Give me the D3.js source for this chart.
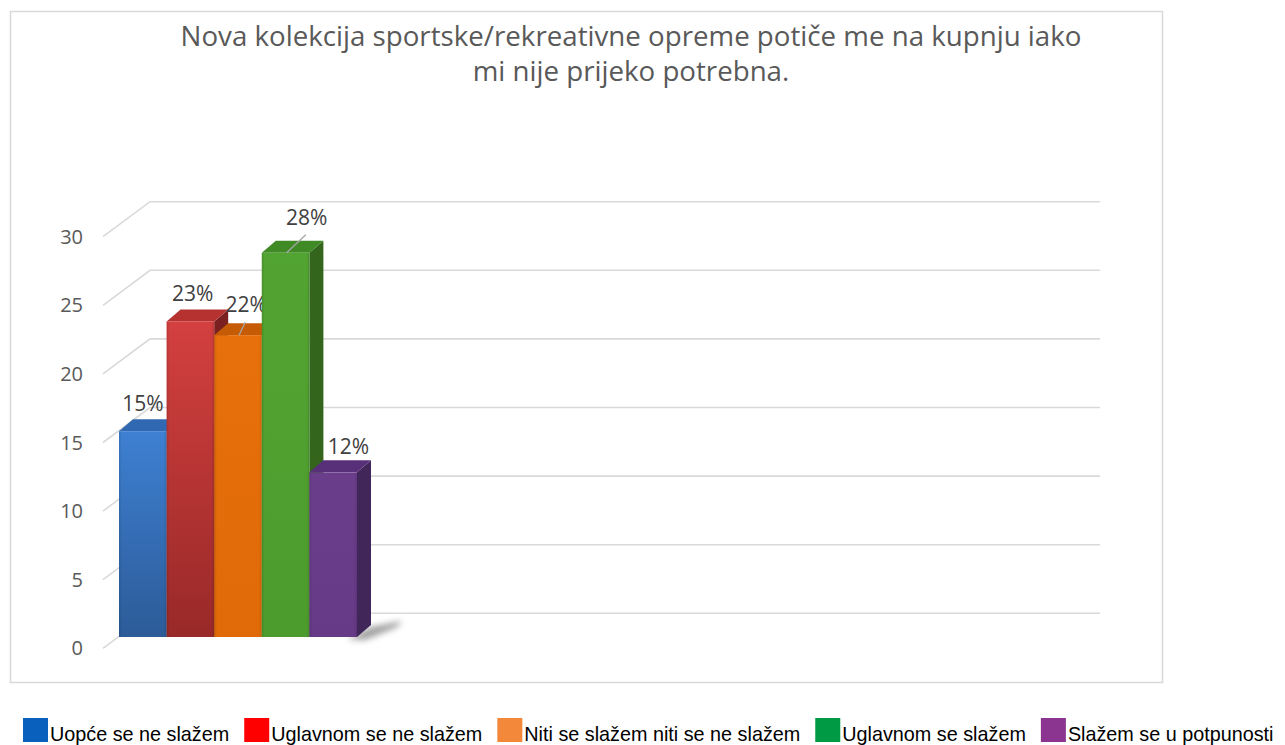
<!doctype html>
<html>
<head>
<meta charset="utf-8">
<script src="https://cdn.jsdelivr.net/npm/d3@7"></script>
<style>
  body { margin: 0; background: #fff; }
  svg { display: block; }
</style>
</head>
<body>
<script>
// Data
const categories = ["Uopće se ne slažem", "Uglavnom se ne slažem", "Niti se slažem niti se ne slažem", "Uglavnom se slažem", "Slažem se u potpunosti"];
const values = [15, 23, 22, 28, 12];
const valueLabels = ["15%", "23%", "22%", "28%", "12%"];
const yTicks = [0, 5, 10, 15, 20, 25, 30];
const titleLines = ["Nova kolekcija sportske/rekreativne opreme potiče me na kupnju iako", "mi nije prijeko potrebna."];

// colours: [front top, front bottom, top face, side face]
const barColors = [
  ["#3e80d2", "#2c5b98", "#3069b2", "#24497a"],
  ["#d3403f", "#982928", "#b53231", "#7a2020"],
  ["#e8700c", "#e06a08", "#c55c05", "#a84d04"],
  ["#52a432", "#4c9c2d", "#3f8a25", "#33651d"],
  ["#6b3e8c", "#663a87", "#583079", "#41265a"]
];
const legendColors = ["#0a60bd", "#ff0000", "#f4883a", "#009944", "#8b3590"];

// label nudges relative to default spot (layout only)
const labelShift = [[0, 0], [2, 0], [8, -3], [21, -8], [15, 2]];
const hasLeader = [false, false, true, true, false];

const W = 1285, H = 745;
const svg = d3.select("body").append("svg").attr("width", W).attr("height", H);

// chart border
svg.append("rect").attr("x", 10.5).attr("y", 11.5).attr("width", 1152).attr("height", 671)
  .attr("fill", "#fff").attr("stroke", "#d9d9d9").attr("stroke-width", 1.5);

// title
svg.append("text")
  .attr("font-family", "'Open Sans', 'Noto Sans', sans-serif")
  .attr("font-size", 27.7).attr("fill", "#595959").attr("text-anchor", "middle")
  .selectAll("tspan").data(titleLines).join("tspan")
  .attr("x", 631).attr("y", (d, i) => 46 + i * 35).text(d => d);

// 3D geometry
const depthX = 47, depthY = -35;       // front -> back of the plot floor
const yBack = d3.scaleLinear().domain([0, 30]).range([613.3, 201.7]);
const yFront = v => yBack(v) - depthY;
const backX0 = 150, backX1 = 1100;
const barBase = 637;                   // bars stand midway in depth
const y = d3.scaleLinear().domain([0, 30]).range([barBase, barBase - (yBack(0) - yBack(30))]);
const x = d3.scaleBand().domain(categories).range([119, 357]).padding(0);
const bdx = 14, bdy = -12;             // bar depth

// gridlines
const grid = svg.append("g").attr("stroke", "#d9d9d9").attr("stroke-width", 1.6).attr("fill", "none");
grid.selectAll("path").data(yTicks).join("path")
  .attr("d", d => `M${backX0 - depthX},${yFront(d)}L${backX0},${yBack(d)}L${backX1},${yBack(d)}`);

// tick labels
svg.append("g")
  .attr("font-family", "'Open Sans', 'Noto Sans', sans-serif")
  .attr("font-size", 20).attr("fill", "#595959").attr("text-anchor", "end")
  .selectAll("text").data(yTicks).join("text")
  .attr("x", 83).attr("y", d => yFront(d) + 7).text(d => d);

// defs
const defs = svg.append("defs");
barColors.forEach((c, i) => {
  const g = defs.append("linearGradient").attr("id", "g" + i)
    .attr("x1", 0).attr("y1", 0).attr("x2", 0).attr("y2", 1);
  g.append("stop").attr("offset", 0).attr("stop-color", c[0]);
  g.append("stop").attr("offset", 1).attr("stop-color", c[1]);
  const e = defs.append("linearGradient").attr("id", "e" + i)
    .attr("x1", 0).attr("y1", 0).attr("x2", 1).attr("y2", 0);
  e.append("stop").attr("offset", 0).attr("stop-color", "#000").attr("stop-opacity", 0.12);
  e.append("stop").attr("offset", 0.06).attr("stop-color", "#000").attr("stop-opacity", 0);
  e.append("stop").attr("offset", 0.94).attr("stop-color", "#000").attr("stop-opacity", 0);
  e.append("stop").attr("offset", 1).attr("stop-color", "#000").attr("stop-opacity", 0.12);
});
const blur = defs.append("filter").attr("id", "blur").attr("x", -0.5).attr("y", -0.5).attr("width", 2).attr("height", 2);
blur.append("feGaussianBlur").attr("stdDeviation", 3);

// floor shadow behind last bar
const lastX = x(categories[categories.length - 1]) + x.bandwidth();
svg.append("path")
  .attr("d", `M${lastX - 10},${barBase + 2}L${lastX + bdx},${barBase + bdy + 2}L${lastX + 45},${barBase - 16}L${lastX + 40},${barBase - 10}L${lastX + 8},${barBase + 3}Z`)
  .attr("fill", "#777").attr("opacity", 0.7).attr("filter", "url(#blur)");

// bars
const bars = svg.append("g").selectAll("g").data(values).join("g");
const bw = x.bandwidth();
bars.append("path") // side
  .attr("d", (d, i) => {
    const x1 = x(categories[i]) + bw, t = y(d);
    return `M${x1},${t}L${x1 + bdx},${t + bdy}L${x1 + bdx},${barBase + bdy}L${x1},${barBase}Z`;
  })
  .attr("fill", (d, i) => barColors[i][3]);
bars.append("path") // top
  .attr("d", (d, i) => {
    const x0 = x(categories[i]), t = y(d);
    return `M${x0},${t}L${x0 + bdx},${t + bdy}L${x0 + bw + bdx},${t + bdy}L${x0 + bw},${t}Z`;
  })
  .attr("fill", (d, i) => barColors[i][2]);
bars.append("rect") // front
  .attr("x", (d, i) => x(categories[i])).attr("y", d => y(d))
  .attr("width", bw).attr("height", d => barBase - y(d))
  .attr("fill", (d, i) => `url(#g${i})`);
bars.append("rect")
  .attr("x", (d, i) => x(categories[i])).attr("y", d => y(d))
  .attr("width", bw).attr("height", d => barBase - y(d))
  .attr("fill", (d, i) => `url(#e${i})`);

// leader lines
bars.filter((d, i) => hasLeader[i]).append("path")
  .attr("d", (d, i) => {
    const j = values.indexOf(d);
    const cx = x(categories[j]) + 24 + labelShift[j][0];
    const by = y(d) - 20 + labelShift[j][1];
    const tx = x(categories[j]) + bw / 2 + 1;
    return `M${cx - 1},${by + 10}L${tx},${y(d) + bdy / 2 + 6}`;
  })
  .attr("stroke", "#a6a6a6").attr("stroke-width", 1.3).attr("fill", "none");

// value labels
bars.append("text")
  .attr("font-family", "'Open Sans', 'Noto Sans', sans-serif")
  .attr("font-size", 21).attr("fill", "#404040").attr("text-anchor", "middle")
  .attr("x", (d, i) => x(categories[i]) + 24 + labelShift[i][0])
  .attr("y", (d, i) => y(d) - 20 + labelShift[i][1])
  .text((d, i) => valueLabels[i]);

// legend
const legend = svg.append("g").attr("font-family", "'Liberation Sans', Arial, sans-serif").attr("font-size", 19.8);
let lx = 23;
categories.forEach((c, i) => {
  legend.append("rect").attr("x", lx).attr("y", 718).attr("width", 25).attr("height", 24).attr("fill", legendColors[i]);
  const t = legend.append("text").attr("x", lx + 27).attr("y", 741).attr("fill", "#000").text(c);
  lx += 27 + t.node().getComputedTextLength() + 15;
});
</script>
</body>
</html>
